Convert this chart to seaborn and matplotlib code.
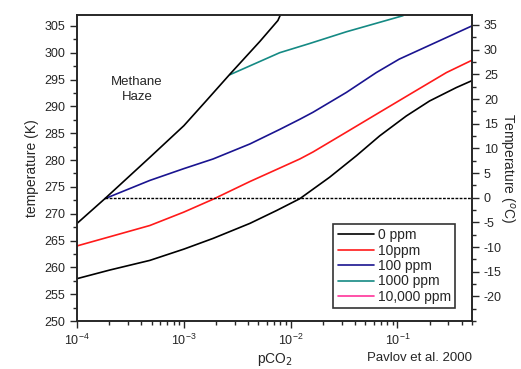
import matplotlib
matplotlib.use("Agg")
import matplotlib.pyplot as plt
import pandas as pd
import seaborn as sns
from matplotlib.ticker import LogLocator, MultipleLocator, NullFormatter

# values (pCO2 in bar, temperature in K)
pco2_0 = [1e-4, 2.02e-4, 4.8e-4, 1e-3, 1.88e-3, 4.16e-3, 7.4e-3, 1.22e-2, 2.32e-2,
          4.13e-2, 6.82e-2, 0.121, 0.2, 0.356, 0.5]
temp_0 = [257.9, 259.5, 261.3, 263.4, 265.4, 268.2, 270.6, 272.8, 276.8,
          280.8, 284.5, 288.2, 291.0, 293.5, 294.8]

pco2_10 = [1e-4, 2.02e-4, 4.8e-4, 1e-3, 1.88e-3, 4.16e-3, 7.9e-3, 1.22e-2, 1.62e-2,
           3.33e-2, 6.82e-2, 0.14, 0.288, 0.5]
temp_10 = [264.0, 265.7, 267.8, 270.3, 272.7, 276.0, 278.5, 280.2, 281.5,
           285.2, 288.9, 292.6, 296.3, 298.6]

pco2_100 = [1.82e-4, 4.8e-4, 1e-3, 1.88e-3, 4.16e-3, 7.9e-3, 1.22e-2, 1.62e-2,
            3.33e-2, 6.35e-2, 0.104, 0.5]
temp_100 = [272.8, 276.2, 278.4, 280.2, 283.0, 285.7, 287.6, 288.9,
            292.6, 296.3, 298.8, 305.0]

pco2_1000 = [2.7e-3, 7.9e-3, 1.5e-2, 3.33e-2, 0.113]
temp_1000 = [295.9, 300.0, 301.7, 303.9, 306.9]

# boundary of the methane haze region
pco2_haze = [1e-4, 1.82e-4, 4.8e-4, 1e-3, 1.63e-3, 2.7e-3, 5.15e-3, 7.6e-3, 8.0e-3]
temp_haze = [268.2, 272.8, 280.5, 286.4, 291.1, 296.0, 302.1, 306.0, 307.0]

freeze_x = [1.82e-4, 0.5]
freeze_y = [273.0, 273.0]

labels = ["0 ppm", "10ppm", "100 ppm", "1000 ppm", "10,000 ppm"]
colors = ["black", "#ff1a1a", "#1a1490", "#158a84", "#ff3399"]

sns.set_style("ticks")
plt.rcParams["font.family"] = ["Liberation Sans", "DejaVu Sans"]
plt.rcParams["axes.unicode_minus"] = False

fig = plt.figure(figsize=(5.21, 3.69), dpi=100)
ax = fig.add_axes([0.148, 0.130, 0.758, 0.829])

series = [(pco2_0, temp_0), (pco2_10, temp_10), (pco2_100, temp_100), (pco2_1000, temp_1000)]
for (xs, ys), lab, col in zip(series, labels, colors):
    df = pd.DataFrame({"pco2": xs, "temp": ys})
    sns.lineplot(data=df, x="pco2", y="temp", color=col, lw=1.2, ax=ax, label=lab, sort=False)
# 10,000 ppm lies off the plot, legend entry only
ax.plot([], [], color=colors[4], lw=1.2, label=labels[4])

sns.lineplot(x=pco2_haze, y=temp_haze, color="black", lw=1.2, ax=ax, sort=False)
sns.lineplot(x=freeze_x, y=freeze_y, color="black", lw=1.0, ls=(0, (2, 1)), ax=ax, sort=False)

ax.set_xscale("log")
ax.set_xlim(1e-4, 0.5)
ax.set_ylim(250, 307)
ax.yaxis.set_major_locator(MultipleLocator(5))
ax.yaxis.set_minor_locator(MultipleLocator(2.5))
ax.xaxis.set_major_locator(LogLocator(base=10))
ax.xaxis.set_minor_locator(LogLocator(base=10, subs=range(2, 10)))
ax.xaxis.set_minor_formatter(NullFormatter())
ax.tick_params(which="major", direction="out", length=5, width=1, labelsize=9)
ax.tick_params(which="minor", direction="out", length=3, width=1)
for s in ax.spines.values():
    s.set_linewidth(1.2)
ax.set_xlabel("pCO$_2$", fontsize=10, labelpad=2)
ax.set_ylabel("temperature (K)", fontsize=10, labelpad=4)

ax2 = ax.twinx()
ax2.set_ylim(-25.0, 37.0)
ax2.yaxis.set_major_locator(MultipleLocator(5))
ax2.yaxis.set_minor_locator(MultipleLocator(2.5))
ax2.tick_params(which="major", direction="out", length=5, width=1, labelsize=9)
ax2.tick_params(which="minor", direction="out", length=3, width=1)
ax2.set_yticks([-20, -15, -10, -5, 0, 5, 10, 15, 20, 25, 30, 35])
ax2.set_ylabel("Temperature ($^o$C)", fontsize=10, rotation=270, labelpad=10)
for s in ax2.spines.values():
    s.set_linewidth(1.2)

ax.text(3.65e-4, 293.2, "Methane\nHaze", ha="center", va="center", fontsize=9.5, linespacing=1.3)
fig.text(0.806, 0.03, "Pavlov et al. 2000", ha="center", va="center", fontsize=9.5)

leg = ax.legend(loc="lower right", bbox_to_anchor=(0.975, 0.02), fontsize=10, frameon=True,
                fancybox=False, edgecolor="black", handlelength=2.6, handletextpad=0.3,
                labelspacing=0.1, borderpad=0.3)
leg.get_frame().set_linewidth(1.2)

fig.savefig("out.png", dpi=100)
